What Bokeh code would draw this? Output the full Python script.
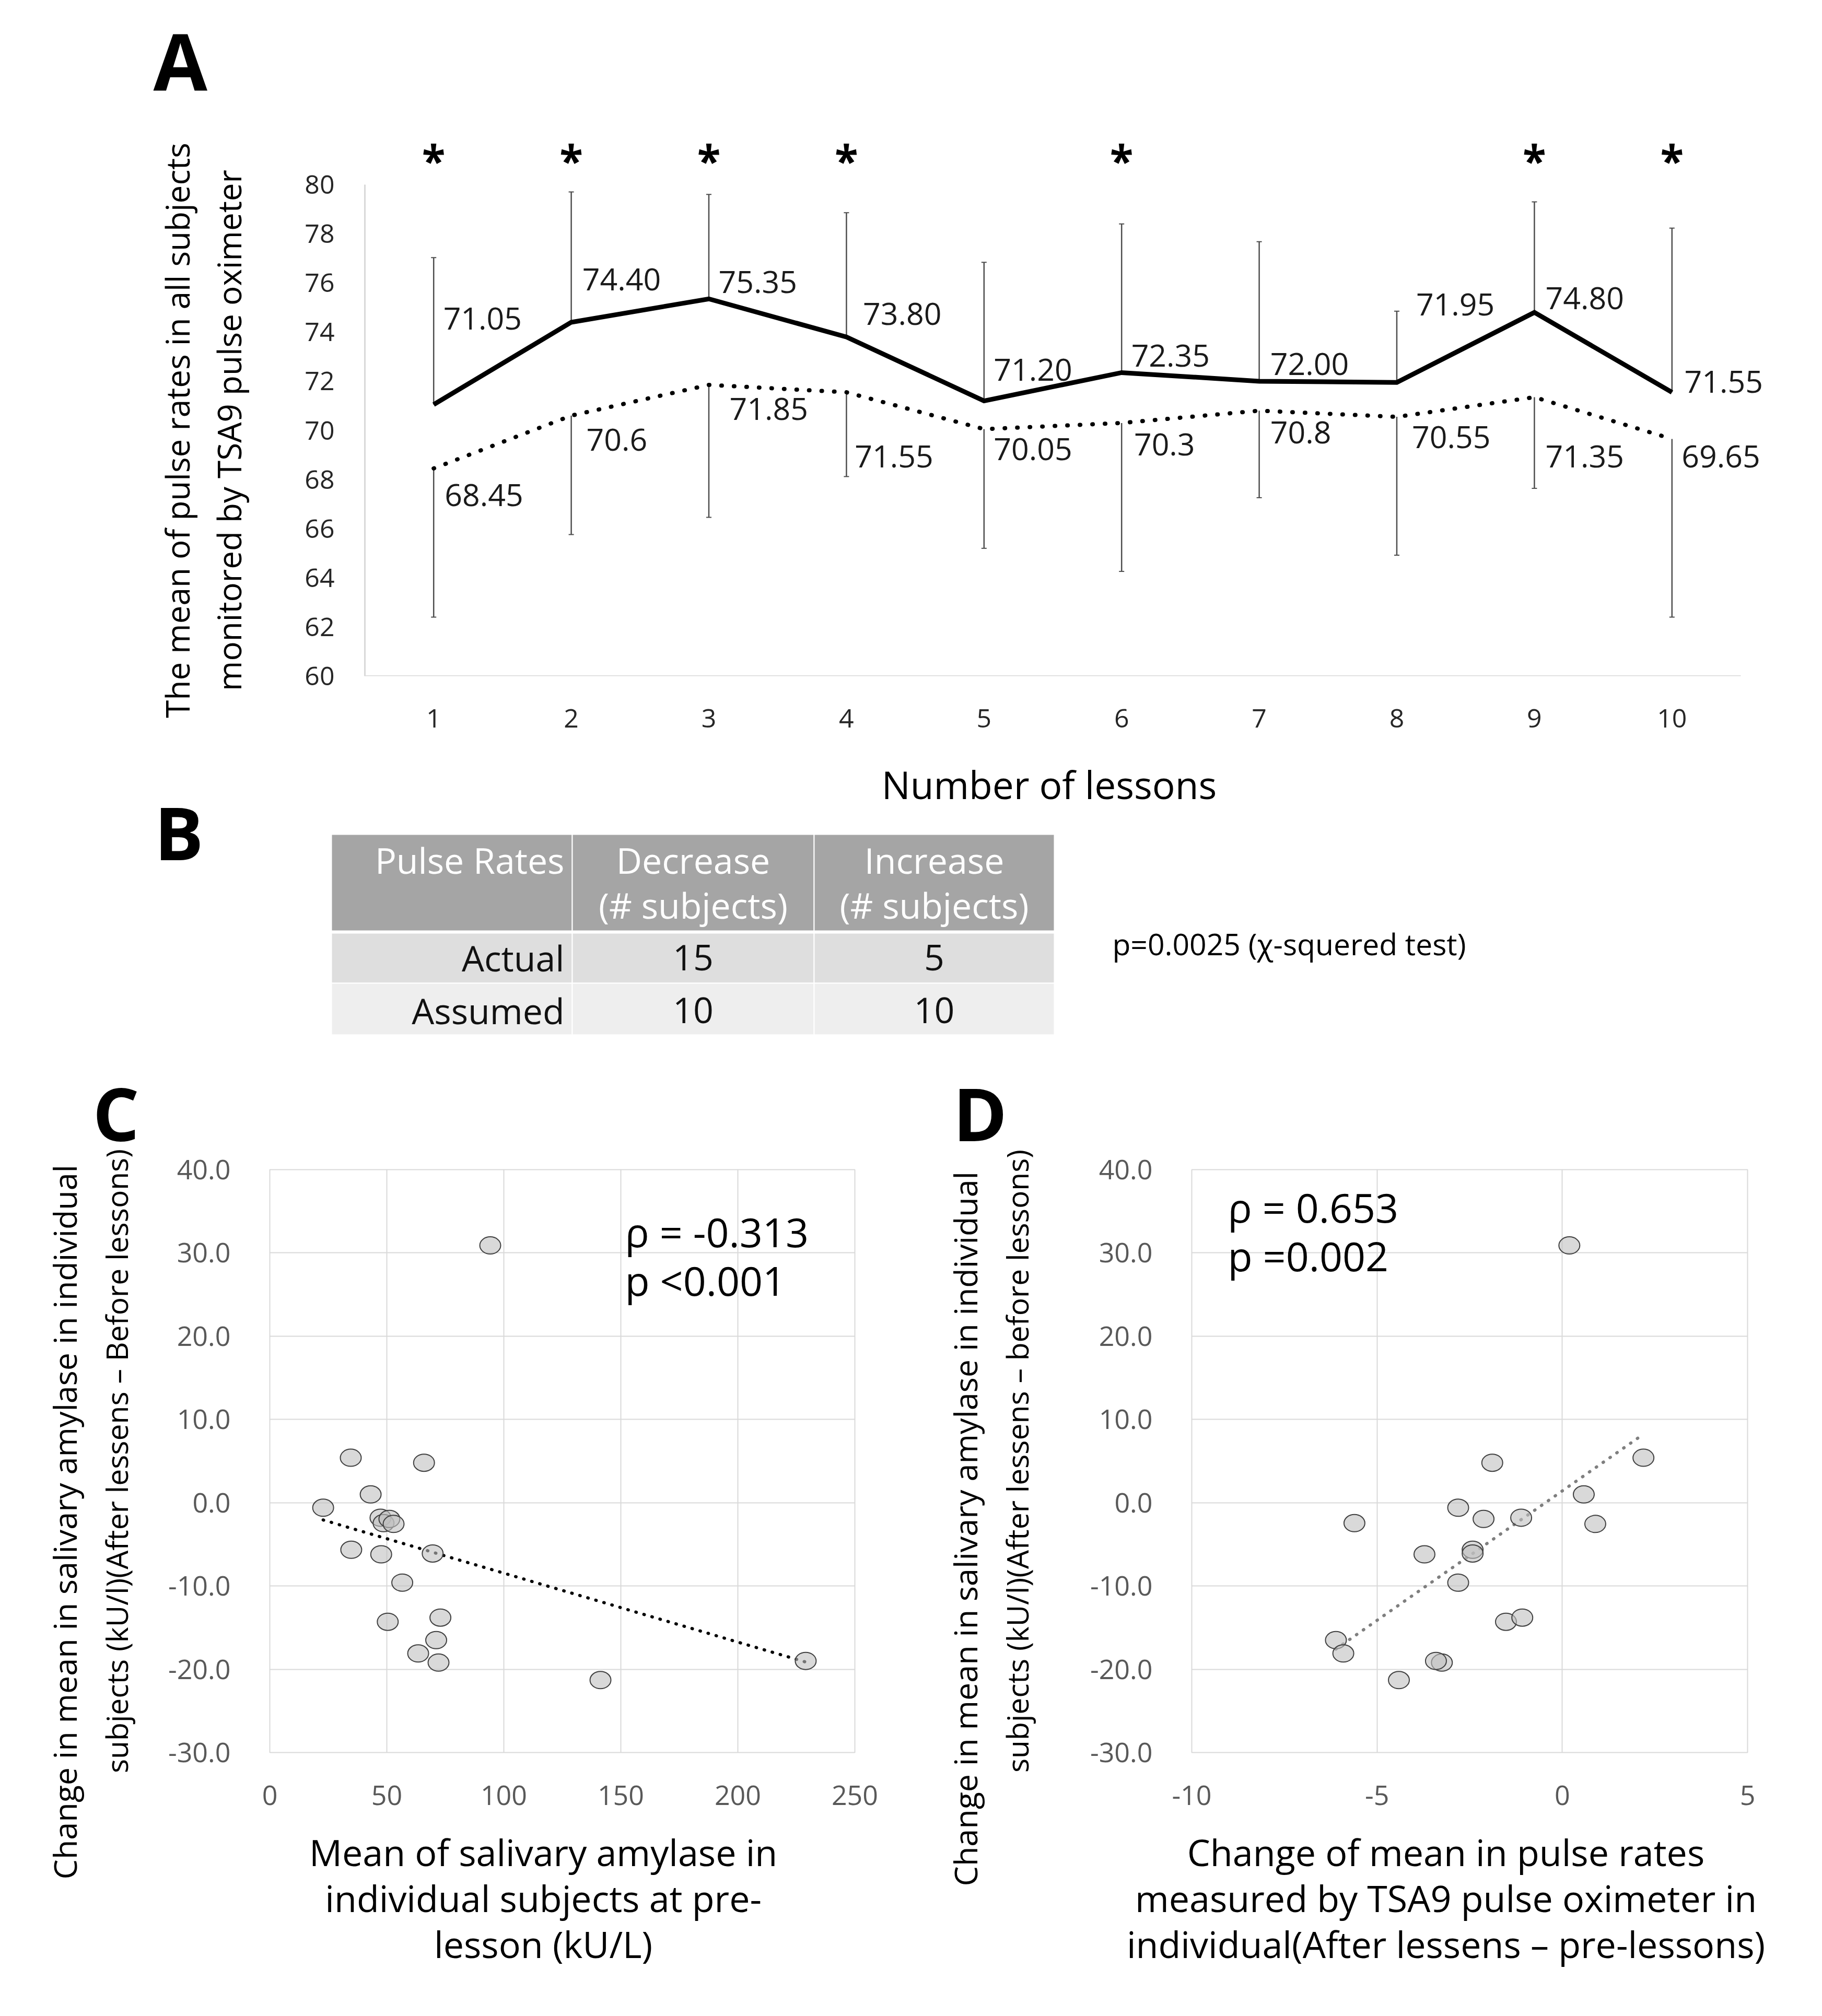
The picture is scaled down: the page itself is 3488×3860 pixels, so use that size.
import numpy as np
from bokeh.plotting import figure
from bokeh.models import (ColumnDataSource, Range1d, Label, LabelSet, Whisker, TeeHead,
                          FixedTicker, NumeralTickFormatter, Title, LinearAxis)
from bokeh.layouts import column, row
from bokeh.embed import file_html
from bokeh.resources import INLINE
from bokeh.core.properties import value

FONT = "Open Sans"

# ---------------- Panel A data ----------------
lessons = [1, 2, 3, 4, 5, 6, 7, 8, 9, 10]
pulse_solid = [71.05, 74.40, 75.35, 73.80, 71.20, 72.35, 72.00, 71.95, 74.80, 71.55]
pulse_dotted = [68.45, 70.6, 71.85, 71.55, 70.05, 70.3, 70.8, 70.55, 71.35, 69.65]
sd_solid = [5.98, 5.30, 4.25, 5.06, 5.64, 6.05, 5.68, 2.90, 4.50, 6.68]
sd_dotted = [6.05, 4.84, 5.39, 3.43, 4.85, 6.04, 3.54, 5.63, 3.71, 7.25]
labels_solid = ["71.05", "74.40", "75.35", "73.80", "71.20", "72.35", "72.00", "71.95", "74.80", "71.55"]
labels_dotted = ["68.45", "70.6", "71.85", "71.55", "70.05", "70.3", "70.8", "70.55", "71.35", "69.65"]
significant = [True, True, True, True, False, True, False, False, True, True]
y_ticks_A = [60, 62, 64, 66, 68, 70, 72, 74, 76, 78, 80]
title_A_y = "The mean of pulse rates in all subjects\nmonitored by TSA9 pulse oximeter"
title_A_x = "Number of lessons"

# ---------------- Panel B data ----------------
table_header1 = ["Pulse Rates", "Decrease", "Increase"]
table_header2 = ["", "(# subjects)", "(# subjects)"]
table_rows = ["Actual", "Assumed"]
n_decrease = [15, 10]
n_increase = [5, 10]
chi_text = "p=0.0025 (χ-squered test)"

# ---------------- Panel C / D data ----------------
amylase_pre = [94.2, 34.6, 65.9, 43.1, 22.8, 47.3, 48.6, 51.1, 52.9, 34.8,
               47.6, 69.6, 56.6, 50.4, 72.9, 71.1, 63.4, 72.1, 141.3, 229.0]
amylase_change = [30.9, 5.4, 4.8, 1.0, -0.6, -1.8, -2.45, -1.95, -2.55, -5.65,
                  -6.2, -6.1, -9.6, -14.3, -13.8, -16.5, -18.1, -19.2, -21.3, -19.0]
pulse_change = [0.19, 2.19, -1.89, 0.58, -2.81, -1.11, -5.61, -2.125, 0.89, -2.42,
                -3.72, -2.42, -2.81, -1.52, -1.08, -6.11, -5.91, -3.25, -4.41, -3.41]
x_ticks_C = [0, 50, 100, 150, 200, 250]
x_ticks_D = [-10, -5, 0, 5]
y_ticks_CD = [-30, -20, -10, 0, 10, 20, 30, 40]
stats_C = ["ρ = -0.313", "p <0.001"]
stats_D = ["ρ = 0.653", "p =0.002"]
title_C_x = ["Mean of salivary amylase in", "individual subjects at pre-", "lesson (kU/L)"]
title_C_y1 = "Change in mean in salivary amylase in individual"
title_C_y2 = "subjects (kU/l)(After lessens – Before lessons)"
title_D_x = ["Change of mean in pulse rates", "measured by TSA9 pulse oximeter in",
             "individual(After lessens – pre-lessons)"]
title_D_y1 = "Change in mean in salivary amylase in individual"
title_D_y2 = "subjects (kU/l)(After lessens – before lessons)"


# ---------------- layout helpers (page pixel geometry) ----------------
def txt(p, px, py, text, size, color="black", bold=False, align="center",
        baseline="middle", angle=0.0):
    p.add_layout(Label(x=px, y=py, text=text, text_font=FONT, text_font_size=f"{size}px",
                       text_color=color, text_font_style="bold" if bold else "normal",
                       text_align=align, text_baseline=baseline, angle=angle))


def canvas_fig(top, bot):
    """A figure whose frame is the whole canvas, in page pixel coordinates."""
    p = figure(width=3472, height=bot - top, x_range=Range1d(8, 3480),
               y_range=Range1d(bot, top), x_axis_type=None, y_axis_type=None,
               output_backend="svg", toolbar_location=None, title=None)
    p.min_border_left = p.min_border_right = p.min_border_top = p.min_border_bottom = 0
    p.outline_line_color = None
    return p


def base_fig(w, h, xr, yr, bl, br, bt, bb):
    p = figure(width=w, height=h, x_range=Range1d(*xr), y_range=Range1d(*yr),
               output_backend="svg", toolbar_location=None, title=None)
    p.min_border_left = bl
    p.min_border_right = br
    p.min_border_top = bt
    p.min_border_bottom = bb
    p.outline_line_color = None
    return p


def style_axis_label(ax, size, standoff, line_height):
    ax.axis_label_text_font = FONT
    ax.axis_label_text_font_size = f"{size}px"
    ax.axis_label_text_font_style = "normal"
    ax.axis_label_text_color = "black"
    ax.axis_label_standoff = standoff
    ax.axis_label_text_line_height = line_height

# ================= strip with the letter A =================
S_top, S_bot = 8, 230
p0 = canvas_fig(S_top, S_bot)
txt(p0, 301, 123, "A", 150, bold=True, align="left")

# ================= Panel A =================
A_top, A_bot = S_bot, 1438
fxA0, fxA1 = 706, 3440
y80_px, y60_px = 361, 1302
pxA = 263.4                      # pixels per lesson
xrA = (0.5, 0.5 + (fxA1 - fxA0) / pxA)
pA = base_fig(3472, A_bot - A_top, xrA, (60, 80), fxA0 - 8, 3480 - fxA1,
              y80_px - A_top, A_bot - y60_px)
pA.xgrid.visible = False
pA.ygrid.visible = False
pA.xaxis.ticker = FixedTicker(ticks=lessons)
pA.yaxis.ticker = FixedTicker(ticks=y_ticks_A)
for ax in pA.axis:
    ax.major_tick_line_color = None
    ax.minor_tick_line_color = None
    ax.major_tick_out = 0
    ax.major_tick_in = 0
    ax.major_label_text_font = FONT
    ax.major_label_text_font_size = "50px"
    ax.major_label_text_color = "#262626"
pA.yaxis.axis_line_color = "#d9d9d9"
pA.yaxis.axis_line_width = 3
pA.xaxis.axis_line_color = None
pA.yaxis.major_label_standoff = 58
pA.xaxis.major_label_standoff = 63
pA.yaxis.axis_label = title_A_y
style_axis_label(pA.yaxis[0], 62, 100, 1.18)
# baseline of the category axis, spanning the ten lesson slots
pA.segment(x0=[lessons[0] - 0.5], y0=[y_ticks_A[0]], x1=[lessons[-1] + 0.5], y1=[y_ticks_A[0]],
           line_color="#d9d9d9", line_width=3)

# significance stars: an axis above the chart whose tick labels are "*"
sig_lessons = [l for l, s in zip(lessons, significant) if s]
star_axis = LinearAxis(ticker=FixedTicker(ticks=sig_lessons),
                       major_label_overrides={l: "*" for l in sig_lessons},
                       axis_line_color=None, major_tick_line_color=None, minor_tick_line_color=None,
                       major_tick_out=0, major_tick_in=0, major_label_standoff=-8,
                       major_label_text_font=FONT, major_label_text_font_size="82px",
                       major_label_text_font_style="bold", major_label_text_color="black")
pA.add_layout(star_axis, "above")

srcA = ColumnDataSource(dict(
    x=lessons, solid=pulse_solid, dotted=pulse_dotted,
    solid_hi=[v + s for v, s in zip(pulse_solid, sd_solid)],
    dotted_lo=[v - s for v, s in zip(pulse_dotted, sd_dotted)],
))
pA.add_layout(Whisker(source=srcA, base="x", lower="solid", upper="solid_hi",
                      line_color="#4d4d4d", line_width=2.5,
                      upper_head=TeeHead(size=10, line_color="#4d4d4d", line_width=2),
                      lower_head=TeeHead(size=1, line_alpha=0)))
pA.add_layout(Whisker(source=srcA, base="x", lower="dotted_lo", upper="dotted",
                      line_color="#4d4d4d", line_width=2.5,
                      lower_head=TeeHead(size=10, line_color="#4d4d4d", line_width=2),
                      upper_head=TeeHead(size=1, line_alpha=0)))
pA.line("x", "solid", source=srcA, line_color="black", line_width=9, line_join="miter")
pA.line("x", "dotted", source=srcA, line_color="black", line_width=8,
        line_dash="1 23", line_cap="round")

# data labels (placement offsets, in data units)
dx_solid = [0.07, 0.08, 0.07, 0.12, 0.07, 0.07, 0.08, 0.14, 0.08, 0.09]
dy_solid = [3.49, 1.74, 0.68, 0.95, 1.26, 0.68, 0.69, 3.17, 0.57, 0.42]
dx_dotted = [0.08, 0.11, 0.15, 0.06, 0.07, 0.09, 0.08, 0.11, 0.08, 0.07]
dy_dotted = [-1.09, -0.98, -0.98, -2.62, -0.81, -0.88, -0.89, -0.82, -2.42, -0.72]
lab_src = ColumnDataSource(dict(
    x=[l + d for l, d in zip(lessons, dx_solid)] + [l + d for l, d in zip(lessons, dx_dotted)],
    y=[v + d for v, d in zip(pulse_solid, dy_solid)] + [v + d for v, d in zip(pulse_dotted, dy_dotted)],
    t=labels_solid + labels_dotted,
))
pA.add_layout(LabelSet(x="x", y="y", text="t", source=lab_src, text_font=value(FONT),
                       text_font_size=value("59px"), text_color="#1a1a1a",
                       text_align="left", text_baseline="middle"))

# ================= Panel B (x title of A, table) =================
B_top, B_bot = A_bot, 2025
pB = canvas_fig(B_top, B_bot)
txt(pB, 2016, 1509, title_A_x, 73)
txt(pB, 303, 1600, "B", 140, bold=True, align="left")

col_edges = [642, 1103, 1566, 2026]
row_edges = [1605, 1790, 1890, 1989]
row_fill = ["#a5a5a5", "#dedede", "#eeeeee"]
cells = dict(l=[], r=[], t=[], b=[], c=[])
for ri in range(3):
    for ci in range(3):
        cells["l"].append(col_edges[ci])
        cells["r"].append(col_edges[ci + 1])
        cells["t"].append(row_edges[ri] + (4 if ri == 1 else 0))
        cells["b"].append(row_edges[ri + 1])
        cells["c"].append(row_fill[ri])
pB.quad(left="l", right="r", top="t", bottom="b", fill_color="c", line_color="white",
        line_width=2, source=ColumnDataSource(cells))

col_center = [(col_edges[i] + col_edges[i + 1]) / 2 for i in range(3)]
txt(pB, 1088, 1654, table_header1[0], 68, color="white", align="right")
for ci in (1, 2):
    txt(pB, col_center[ci], 1654, table_header1[ci], 68, color="white")
    txt(pB, col_center[ci], 1740, table_header2[ci], 68, color="white")
row_y = [1841, 1942]
for ri, name in enumerate(table_rows):
    txt(pB, 1088, row_y[ri], name, 68, color="#111111", align="right")
    txt(pB, col_center[1], row_y[ri], str(n_decrease[ri]), 68, color="#111111")
    txt(pB, col_center[2], row_y[ri], str(n_increase[ri]), 68, color="#111111")
txt(pB, 2137, 1814, chi_text, 57, align="left")

# ================= Panels C and D =================
CD_top, CD_bot = B_bot, 3852
fy0, fy1 = 2247, 3363
NBSP = "\u00a0"


def scatter_panel(px_left, px_right, fx0, fx1, xr, xticks, xs, ys, trend_color,
                  xtitle_lines, xtitle_pad, ytitle1, ytitle2, y2_standoff, y1_start,
                  letter, letter_offset, stats, stats_px, stats_py):
    p = base_fig(px_right - px_left, CD_bot - CD_top, xr, (-30, 40),
                 fx0 - px_left, px_right - fx1, fy0 - CD_top, CD_bot - fy1)
    p.xaxis.ticker = FixedTicker(ticks=xticks)
    p.yaxis.ticker = FixedTicker(ticks=y_ticks_CD)
    p.xgrid.ticker = FixedTicker(ticks=xticks)
    p.ygrid.ticker = FixedTicker(ticks=y_ticks_CD)
    p.yaxis.formatter = NumeralTickFormatter(format="0.0")
    p.xaxis.formatter = NumeralTickFormatter(format="0")
    for g in (p.xgrid, p.ygrid):
        g.grid_line_color = "#d9d9d9"
        g.grid_line_width = 2
    p.outline_line_color = "#d9d9d9"
    p.outline_line_width = 2
    for ax in p.axis:
        ax.axis_line_color = None
        ax.major_tick_line_color = None
        ax.minor_tick_line_color = None
        ax.major_tick_out = 0
        ax.major_tick_in = 0
        ax.major_label_text_font = FONT
        ax.major_label_text_font_size = "52px"
        ax.major_label_text_color = "#595959"
    p.yaxis.major_label_standoff = 75
    p.xaxis.major_label_standoff = 63
    # the reference centres this title slightly left of the plot centre
    p.xaxis.axis_label = "\n".join(line + NBSP * xtitle_pad for line in xtitle_lines)
    style_axis_label(p.xaxis[0], 70, 39, 0.92)
    # inner line of the y title is the axis label, outer line is a side title
    p.yaxis.axis_label = ytitle2
    style_axis_label(p.yaxis[0], 57, y2_standoff, 1.0)
    p.add_layout(Title(text=ytitle1, align="left", offset=fy1 - y1_start, standoff=32,
                       text_font=FONT, text_font_size="61px", text_font_style="normal",
                       text_color="black"), "left")
    p.add_layout(Title(text=letter, align="left", offset=letter_offset, standoff=28,
                       text_font=FONT, text_font_size="140px", text_font_style="bold",
                       text_color="black"), "above")

    coef = np.polyfit(xs, ys, 1)
    tx = np.array([min(xs), max(xs)])
    p.line(tx, np.polyval(coef, tx), line_color=trend_color, line_width=6,
           line_dash="1 15", line_cap="round")
    p.ellipse(x=xs, y=ys, width=40, height=33, width_units="screen", height_units="screen",
              fill_color="#bfbfbf", fill_alpha=0.6, line_color="#404040", line_width=2)

    def m(px, py):
        return (xr[0] + (px - fx0) * (xr[1] - xr[0]) / (fx1 - fx0),
                40 + (py - fy0) * (-70.0) / (fy1 - fy0))
    for i, s in enumerate(stats):
        x, y = m(stats_px, stats_py[i])
        p.add_layout(Label(x=x, y=y, text=s, text_font=FONT, text_font_size="77px",
                           text_color="black", text_align="left", text_baseline="middle"))
    return p


pC = scatter_panel(8, 1760, 524, 1644, (0, 250), x_ticks_C, amylase_pre, amylase_change,
                   "black", title_C_x, 4, title_C_y1, title_C_y2, 57, 3606, "C", -339,
                   stats_C, 1204, [2366, 2459])
pD = scatter_panel(1760, 3480, 2289, 3353, (-10, 5), x_ticks_D, pulse_change, amylase_change,
                   "#7f7f7f", title_D_x, 5, title_D_y1, title_D_y2, 98, 3619, "D", -457,
                   stats_D, 2358, [2319, 2412])

layout = column(row(p0), row(pA), row(pB), row(pC, pD))
open("out.html", "w").write(file_html(layout, INLINE))
